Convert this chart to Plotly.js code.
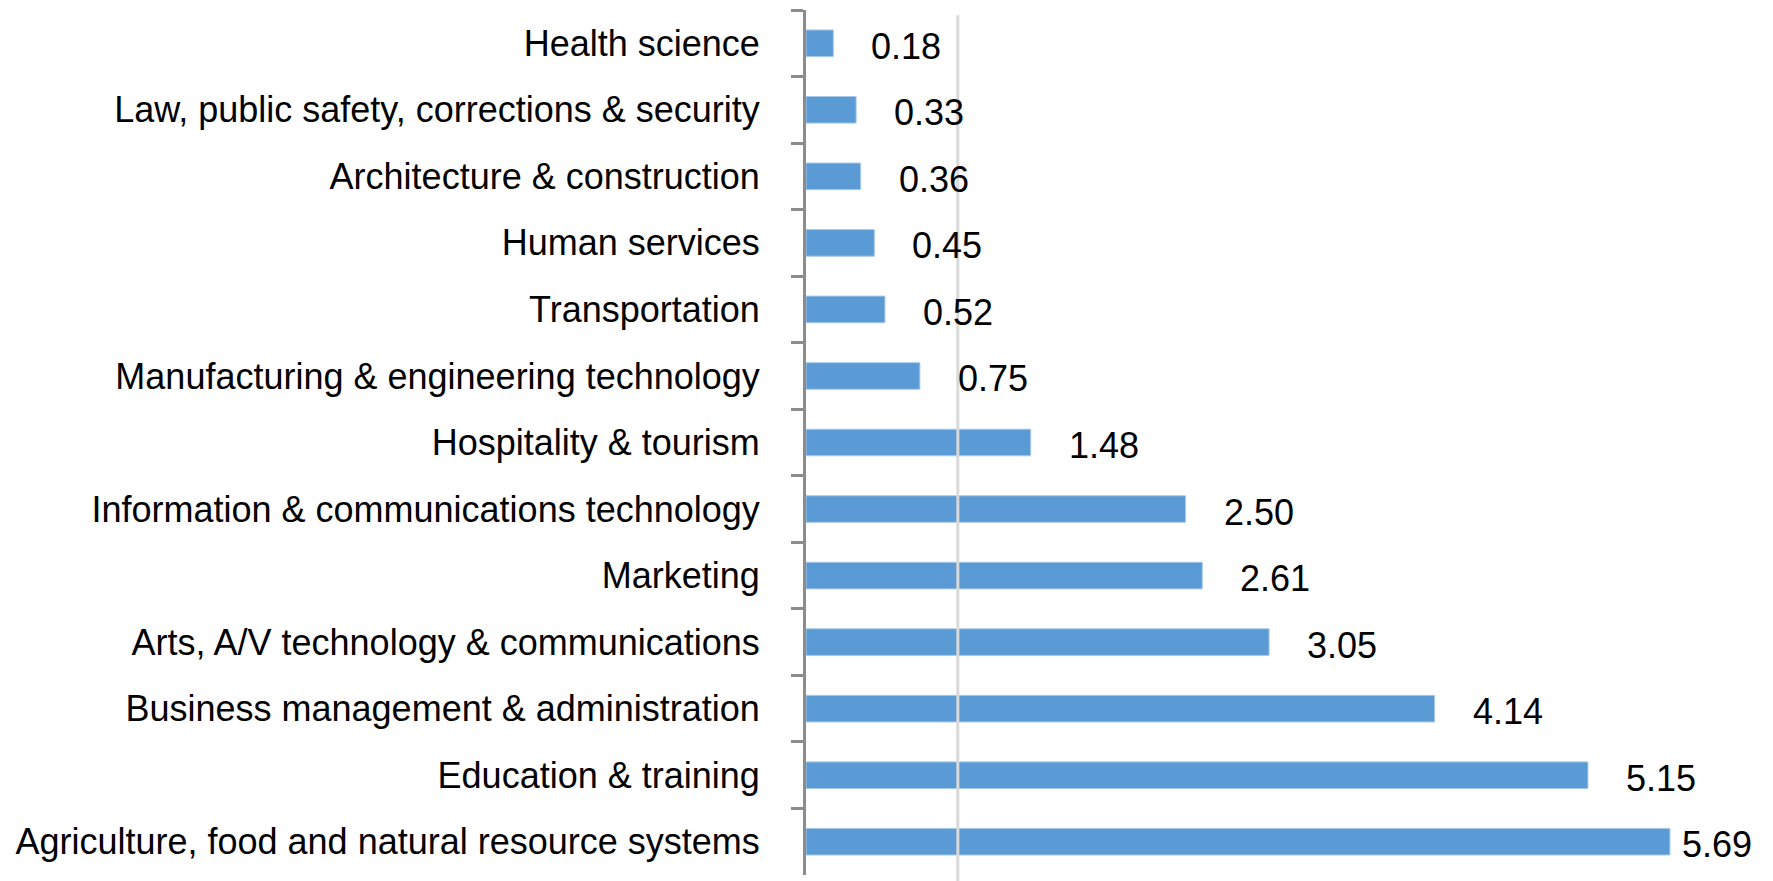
<!DOCTYPE html>
<html>
<head>
<meta charset="utf-8">
<script src="https://cdn.plot.ly/plotly-3.0.1.min.js"></script>
<style>html,body{margin:0;padding:0;background:#fff;}#chart{width:1773px;height:881px;}</style>
</head>
<body>
<div id="chart"></div>
<script>
var categories = [
  "Health science",
  "Law, public safety, corrections & security",
  "Architecture & construction",
  "Human services",
  "Transportation",
  "Manufacturing & engineering technology",
  "Hospitality & tourism",
  "Information & communications technology",
  "Marketing",
  "Arts, A/V technology & communications",
  "Business management & administration",
  "Education & training",
  "Agriculture, food and natural resource systems"
];
var values = [0.18, 0.33, 0.36, 0.45, 0.52, 0.75, 1.48, 2.50, 2.61, 3.05, 4.14, 5.15, 5.69];
var valueLabels = ["0.18", "0.33", "0.36", "0.45", "0.52", "0.75", "1.48", "2.50", "2.61", "3.05", "4.14", "5.15", "5.69"];
var referenceValue = 1;

var W = 1773, H = 881;
var ml = 806, mr = 56, mt = 10, mb = 6;
var xMax = 6;
var pxPerUnit = (W - ml - mr) / xMax;
var labelFont = {family: "Liberation Sans, Arial, sans-serif", size: 36, color: "#000"};
var labelWidthPx = 74, rightLimit = 1754, gap = 36;

var annotations = values.map(function(v, i) {
  var barEnd = ml + v * pxPerUnit;
  var shift = Math.min(gap, rightLimit - labelWidthPx - barEnd);
  return {
    x: v, y: categories[i], xref: "x", yref: "y",
    text: valueLabels[i], showarrow: false,
    xanchor: "left", yanchor: "middle", xshift: shift, yshift: -3,
    font: labelFont
  };
});

var trace = {
  type: "bar",
  orientation: "h",
  x: values,
  y: categories,
  marker: {color: "#5b9bd5", line: {color: "#a9c9ea", width: 1}},
  hoverinfo: "none"
};

var layout = {
  width: W, height: H,
  margin: {l: ml, r: mr, t: mt, b: mb, pad: 0},
  paper_bgcolor: "#fff", plot_bgcolor: "#fff",
  showlegend: false,
  bargap: 0.6,
  xaxis: {range: [0, xMax], visible: false, showgrid: false, zeroline: false, fixedrange: true},
  yaxis: {
    type: "category",
    autorange: "reversed",
    showline: true, linecolor: "#8c8c8c", linewidth: 3,
    ticks: "outside", tickson: "boundaries", ticklen: 12, tickwidth: 3, tickcolor: "#8c8c8c",
    showgrid: false, zeroline: false,
    ticklabelstandoff: 36,
    tickfont: {family: "Liberation Sans, Arial, sans-serif", size: 36, color: "#000"},
    fixedrange: true
  },
  shapes: [{
    type: "line", xref: "x", yref: "paper",
    x0: referenceValue, x1: referenceValue, y0: -0.01, y1: 0.994,
    line: {color: "#d9d9d9", width: 3}, layer: "above"
  }],
  annotations: annotations
};

Plotly.newPlot("chart", [trace], layout, {displayModeBar: false, staticPlot: true});
</script>
</body>
</html>
